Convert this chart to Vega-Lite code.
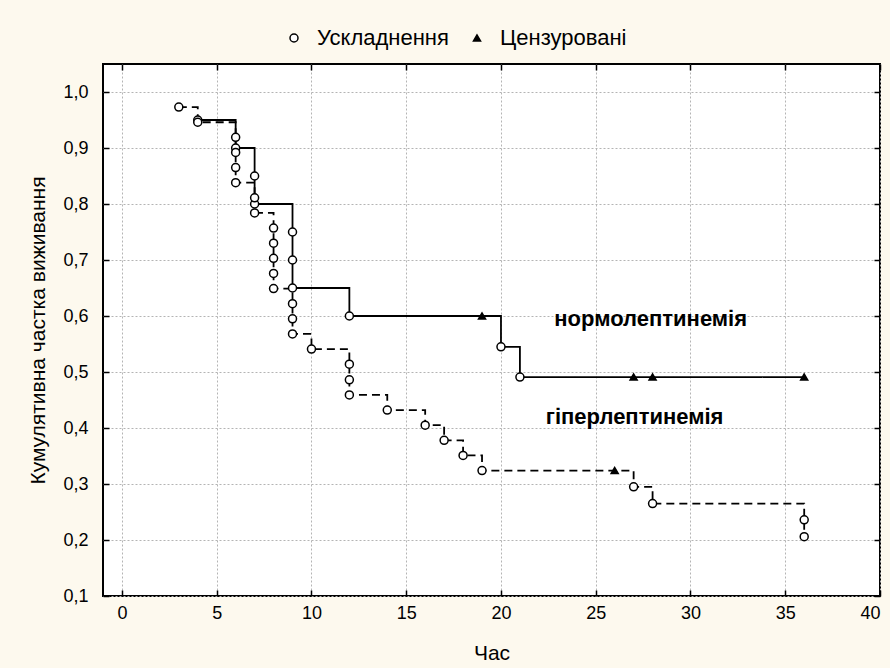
{
  "$schema": "https://vega.github.io/schema/vega-lite/v6.json",
  "width": 777,
  "height": 532,
  "autosize": "none",
  "padding": {"left": 103, "top": 64, "right": 10, "bottom": 72},
  "background": "#fdf9ee",
  "datasets": {
    "pts": [
      {"g": "N", "t": 4, "s": 0.95, "type": "Ускладнення"},
      {"g": "N", "t": 6, "s": 0.90, "type": "Ускладнення"},
      {"g": "N", "t": 7, "s": 0.85, "type": "Ускладнення"},
      {"g": "N", "t": 7, "s": 0.80, "type": "Ускладнення"},
      {"g": "N", "t": 9, "s": 0.75, "type": "Ускладнення"},
      {"g": "N", "t": 9, "s": 0.70, "type": "Ускладнення"},
      {"g": "N", "t": 9, "s": 0.65, "type": "Ускладнення"},
      {"g": "N", "t": 12, "s": 0.60, "type": "Ускладнення"},
      {"g": "N", "t": 19, "s": 0.60, "type": "Цензуровані"},
      {"g": "N", "t": 20, "s": 0.545, "type": "Ускладнення"},
      {"g": "N", "t": 21, "s": 0.491, "type": "Ускладнення"},
      {"g": "N", "t": 27, "s": 0.491, "type": "Цензуровані"},
      {"g": "N", "t": 28, "s": 0.491, "type": "Цензуровані"},
      {"g": "N", "t": 36, "s": 0.491, "type": "Цензуровані"},
      {"g": "H", "t": 3, "s": 0.973, "type": "Ускладнення"},
      {"g": "H", "t": 4, "s": 0.946, "type": "Ускладнення"},
      {"g": "H", "t": 6, "s": 0.919, "type": "Ускладнення"},
      {"g": "H", "t": 6, "s": 0.892, "type": "Ускладнення"},
      {"g": "H", "t": 6, "s": 0.865, "type": "Ускладнення"},
      {"g": "H", "t": 6, "s": 0.838, "type": "Ускладнення"},
      {"g": "H", "t": 7, "s": 0.811, "type": "Ускладнення"},
      {"g": "H", "t": 7, "s": 0.784, "type": "Ускладнення"},
      {"g": "H", "t": 8, "s": 0.757, "type": "Ускладнення"},
      {"g": "H", "t": 8, "s": 0.730, "type": "Ускладнення"},
      {"g": "H", "t": 8, "s": 0.703, "type": "Ускладнення"},
      {"g": "H", "t": 8, "s": 0.676, "type": "Ускладнення"},
      {"g": "H", "t": 8, "s": 0.649, "type": "Ускладнення"},
      {"g": "H", "t": 9, "s": 0.622, "type": "Ускладнення"},
      {"g": "H", "t": 9, "s": 0.595, "type": "Ускладнення"},
      {"g": "H", "t": 9, "s": 0.568, "type": "Ускладнення"},
      {"g": "H", "t": 10, "s": 0.541, "type": "Ускладнення"},
      {"g": "H", "t": 12, "s": 0.514, "type": "Ускладнення"},
      {"g": "H", "t": 12, "s": 0.486, "type": "Ускладнення"},
      {"g": "H", "t": 12, "s": 0.459, "type": "Ускладнення"},
      {"g": "H", "t": 14, "s": 0.432, "type": "Ускладнення"},
      {"g": "H", "t": 16, "s": 0.405, "type": "Ускладнення"},
      {"g": "H", "t": 17, "s": 0.378, "type": "Ускладнення"},
      {"g": "H", "t": 18, "s": 0.351, "type": "Ускладнення"},
      {"g": "H", "t": 19, "s": 0.324, "type": "Ускладнення"},
      {"g": "H", "t": 26, "s": 0.324, "type": "Цензуровані"},
      {"g": "H", "t": 27, "s": 0.295, "type": "Ускладнення"},
      {"g": "H", "t": 28, "s": 0.265, "type": "Ускладнення"},
      {"g": "H", "t": 36, "s": 0.236, "type": "Ускладнення"},
      {"g": "H", "t": 36, "s": 0.206, "type": "Ускладнення"}
    ],
    "labels": [
      {"t": 27.9, "s": 0.582, "label": "нормолептинемія"},
      {"t": 27.05, "s": 0.407, "label": "гіперлептинемія"}
    ]
  },
  "config": {
    "view": {"fill": "white", "stroke": "black", "strokeWidth": 2},
    "font": "Liberation Sans",
    "legend": {
      "orient": "none",
      "legendX": 180,
      "legendY": -37,
      "direction": "horizontal",
      "labelFontSize": 22,
      "labelColor": "black",
      "symbolSize": 36,
      "symbolStrokeWidth": 1.5,
      "symbolStrokeColor": "black",
      "labelOffset": 12,
      "columnPadding": 17
    },
    "axis": {
      "domain": false,
      "gridColor": "#b4b4b4",
      "gridDash": [2, 2],
      "gridWidth": 1,
      "tickColor": "black",
      "tickWidth": 1.5,
      "tickSize": -6,
      "labelFontSize": 18,
      "labelColor": "black",
      "titleFontSize": 21,
      "titleFontWeight": "normal",
      "titleColor": "black"
    }
  },
  "resolve": {"axis": {"x": "independent", "y": "independent"}},
  "layer": [
    {
      "data": {"name": "pts"},
      "mark": {"type": "line", "interpolate": "step-after", "color": "black", "strokeWidth": 1.8},
      "encoding": {
        "x": {"field": "t", "type": "quantitative",
              "scale": {"domain": [-1, 40], "nice": false, "zero": false},
              "axis": {"values": [0, 5, 10, 15, 20, 25, 30, 35, 40], "title": "Час", "grid": true, "labelPadding": 14, "titlePadding": 20}},
        "y": {"field": "s", "type": "quantitative",
              "scale": {"domain": [0.1, 1.05], "nice": false, "zero": false},
              "axis": {"values": [0.1, 0.2, 0.3, 0.4, 0.5, 0.6, 0.7, 0.8, 0.9, 1.0], "title": "Кумулятивна частка виживання", "grid": true, "labelPadding": 21, "labelExpr": "replace(format(datum.value, '.1f'), '.', ',')", "titlePadding": 14}},
        "detail": {"field": "g"},
        "strokeDash": {"field": "g", "type": "nominal", "scale": {"domain": ["N", "H"], "range": [[1, 0], [8, 5]]}, "legend": null},
        "order": [{"field": "t", "type": "quantitative"}, {"field": "s", "type": "quantitative", "sort": "descending"}]
      }
    },
    {
      "data": {"name": "pts"},
      "mark": {"type": "point", "filled": true, "stroke": "black", "strokeWidth": 1.5, "opacity": 1},
      "encoding": {
        "x": {"field": "t", "type": "quantitative", "scale": {"domain": [-1, 40], "nice": false, "zero": false}, "axis": null},
        "y": {"field": "s", "type": "quantitative", "scale": {"domain": [0.1, 1.05], "nice": false, "zero": false}, "axis": null},
        "shape": {"field": "type", "type": "nominal", "scale": {"domain": ["Ускладнення", "Цензуровані"], "range": ["circle", "triangle-up"]}, "legend": {"title": null}},
        "color": {"field": "type", "type": "nominal", "scale": {"domain": ["Ускладнення", "Цензуровані"], "range": ["white", "black"]}, "legend": {"title": null}},
        "size": {"field": "type", "type": "nominal", "scale": {"domain": ["Ускладнення", "Цензуровані"], "range": [64, 50]}, "legend": null}
      }
    },
    {
      "data": {"name": "labels"},
      "mark": {"type": "text", "fontSize": 22, "fontWeight": "bold", "color": "black", "baseline": "alphabetic", "align": "center"},
      "encoding": {
        "x": {"field": "t", "type": "quantitative", "scale": {"domain": [-1, 40], "nice": false, "zero": false}, "axis": null},
        "y": {"field": "s", "type": "quantitative", "scale": {"domain": [0.1, 1.05], "nice": false, "zero": false}, "axis": null},
        "text": {"field": "label"}
      }
    },
    {
      "data": {"name": "pts"},
      "mark": {"type": "point", "opacity": 0},
      "encoding": {
        "x": {"field": "t", "type": "quantitative", "scale": {"domain": [-1, 40], "nice": false, "zero": false},
              "axis": {"orient": "top", "values": [0, 5, 10, 15, 20, 25, 30, 35, 40], "labels": false, "grid": false, "title": null}},
        "y": {"field": "s", "type": "quantitative", "scale": {"domain": [0.1, 1.05], "nice": false, "zero": false},
              "axis": {"orient": "right", "values": [0.1, 0.2, 0.3, 0.4, 0.5, 0.6, 0.7, 0.8, 0.9, 1.0], "labels": false, "grid": false, "title": null}}
      }
    }
  ]
}
